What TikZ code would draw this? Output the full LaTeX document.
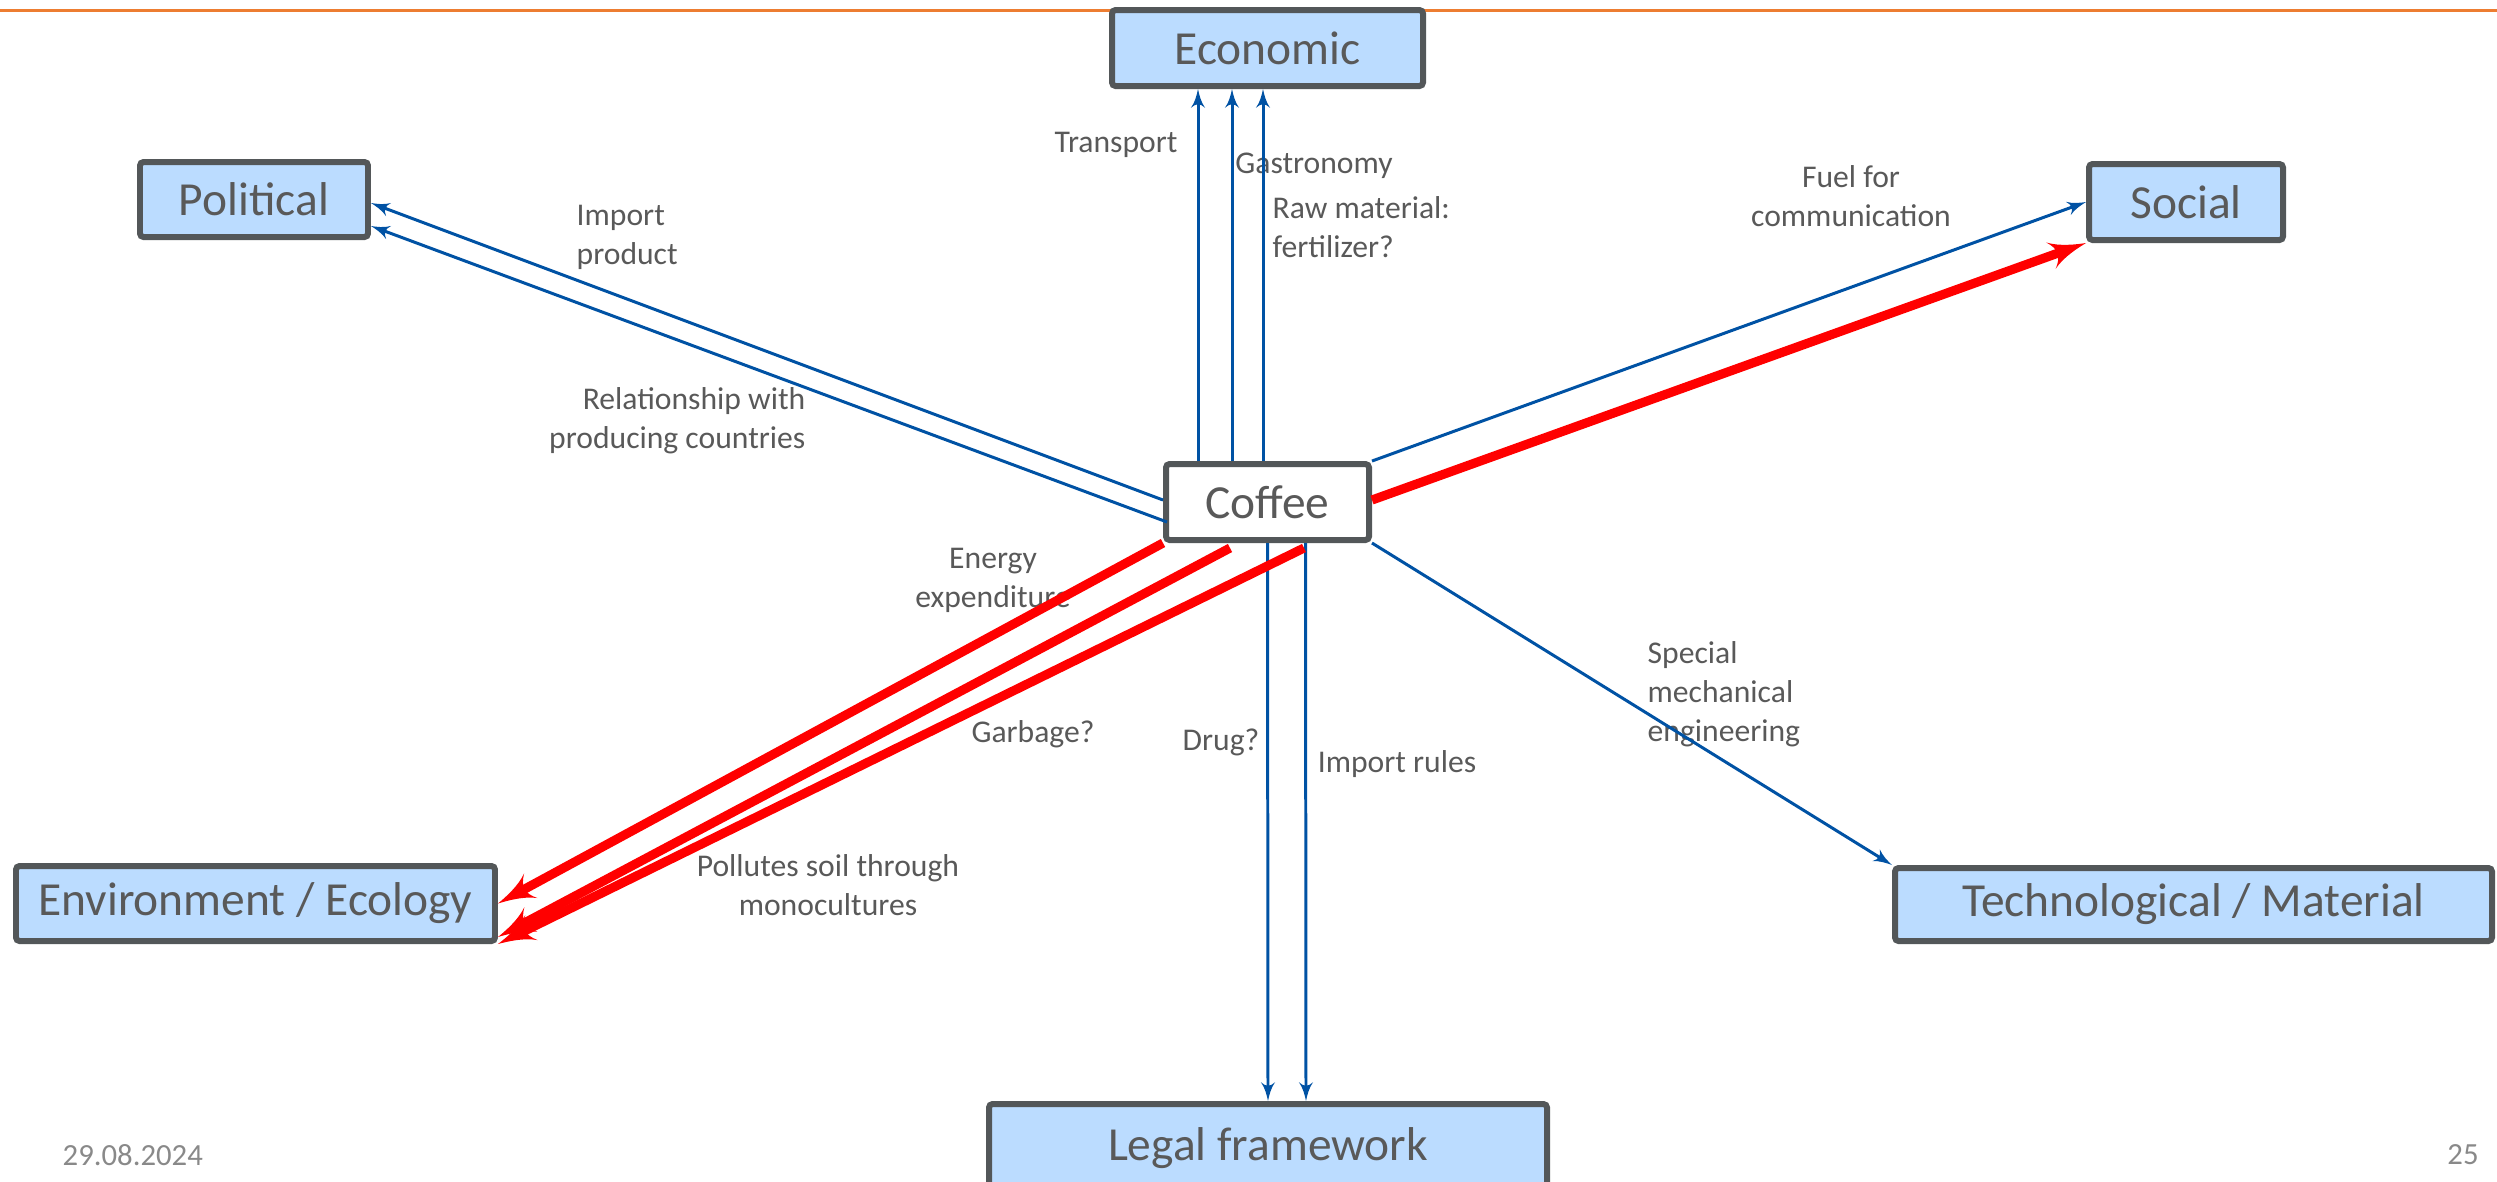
\documentclass[tikz,border=0pt]{standalone}
\usepackage{fontspec}
\setmainfont{Carlito}
\usepackage{tikz}
\usetikzlibrary{shapes,arrows}
\definecolor{boxfill}{RGB}{187,220,255}
\definecolor{boxline}{RGB}{83,87,89}
\definecolor{txtgray}{RGB}{89,89,89}
\definecolor{arrblue}{RGB}{0,82,164}
\definecolor{footgray}{RGB}{137,137,137}
\definecolor{topline}{RGB}{237,125,49}
\tikzstyle{block} = [rectangle, draw=boxline, fill=boxfill, line width=1.7pt,
    text=txtgray, font=\fontsize{13.5}{16}\selectfont, rounded corners=1pt]
\tikzstyle{hub} = [block, fill=white]
\tikzstyle{note} = [text=txtgray, font=\fontsize{9}{11.1}\selectfont, inner sep=0pt]
\tikzstyle{foot} = [note, text=footgray, font=\fontsize{8.75}{10.8}\selectfont]
\tikzstyle{bline} = [draw=arrblue, line width=0.85pt, -latex']
\tikzstyle{rline} = [draw=red, line width=2.6pt, -latex']

\begin{document}
\begin{tikzpicture}[x=0.1mm, y=-0.1mm, node distance=auto]
    \clip (0,0) rectangle (2497,1181);
    \draw [topline, line width=0.85pt] (0,10) -- (2497,10);

    % Place nodes
    \node [hub, minimum width=20.3mm, minimum height=7.6mm] (coffee) at (1267.5,502) {Coffee};
    \node [block, minimum width=31.1mm, minimum height=7.6mm] (economic) at (1267.5,48) {Economic};
    \node [block, minimum width=22.8mm, minimum height=7.5mm] (political) at (254,199.5) {Political};
    \node [block, minimum width=19.4mm, minimum height=7.6mm] (social) at (2186,202) {Social};
    \node [block, minimum width=47.9mm, minimum height=7.5mm] (environment) at (255.5,903.5) {Environment / Ecology};
    \node [block, minimum width=59.7mm, minimum height=7.3mm] (technological) at (2193.5,904.5) {Technological / Material};
    \node [block, minimum width=55.8mm, minimum height=8.8mm] (legal) at (1268,1148) {Legal framework};

    % Labels
    \node [note] (transport) at (1116,145) {Transport};
    \node [note] (gastronomy) at (1314,166) {Gastronomy};
    \node [note, anchor=west, align=left] (rawmat) at (1272,227) {Raw material:\\fertilizer?};
    \node [note, anchor=west, align=left] (importprod) at (576,237) {Import\\product};
    \node [note, anchor=east, align=right] (relation) at (806,421) {Relationship with\\producing countries};
    \node [note, align=center] (fuel) at (1851,196) {Fuel for\\communication};
    \node [note, align=center] (energy) at (993,580) {Energy\\expenditure};
    \node [note] (garbage) at (1033,734) {Garbage?};
    \node [note] (drug) at (1221,742) {Drug?};
    \node [note] (importrules) at (1397,764) {Import rules};
    \node [note, anchor=west, align=left] (special) at (1647,694) {Special\\mechanical\\engineering};
    \node [note, align=center] (pollutes) at (828,885) {Pollutes soil through\\monocultures};
    \node [foot, anchor=west] (date) at (62,1155) {29.08.2024};
    \node [foot] (pagenum) at (2463,1155) {25};

    % Draw edges
    \path [bline] ([xshift=-6.95mm]coffee.north) -- ([xshift=-6.95mm]economic.south);
    \path [bline] ([xshift=-3.55mm]coffee.north) -- ([xshift=-3.55mm]economic.south);
    \path [bline] ([xshift=-0.45mm]coffee.north) -- ([xshift=-0.45mm]economic.south);
    \path [bline] ([yshift=0.2mm]coffee.west) -- ([yshift=-0.35mm]political.east);
    \path [bline] ([xshift=0.4mm,yshift=-2mm]coffee.west) -- ([yshift=-2.65mm]political.east);
    \path [bline] (coffee.north east) -- (social.west);
    \path [rline] ([yshift=0.2mm]coffee.east) -- (social.south west);
    \path [bline] (coffee.south east) -- (technological.north west);
    \path [bline] (coffee.south) -- (legal.north);
    \path [bline] ([xshift=3.8mm]coffee.south) -- ([xshift=3.8mm]legal.north);
    \path [rline] (coffee.south west) -- (environment.east);
    \path [rline] ([xshift=-3.75mm,yshift=-0.5mm]coffee.south) -- ([yshift=0.7mm]environment.south east);
    \path [rline] ([xshift=3.65mm,yshift=-0.5mm]coffee.south) -- (environment.south east);
\end{tikzpicture}
\end{document}
